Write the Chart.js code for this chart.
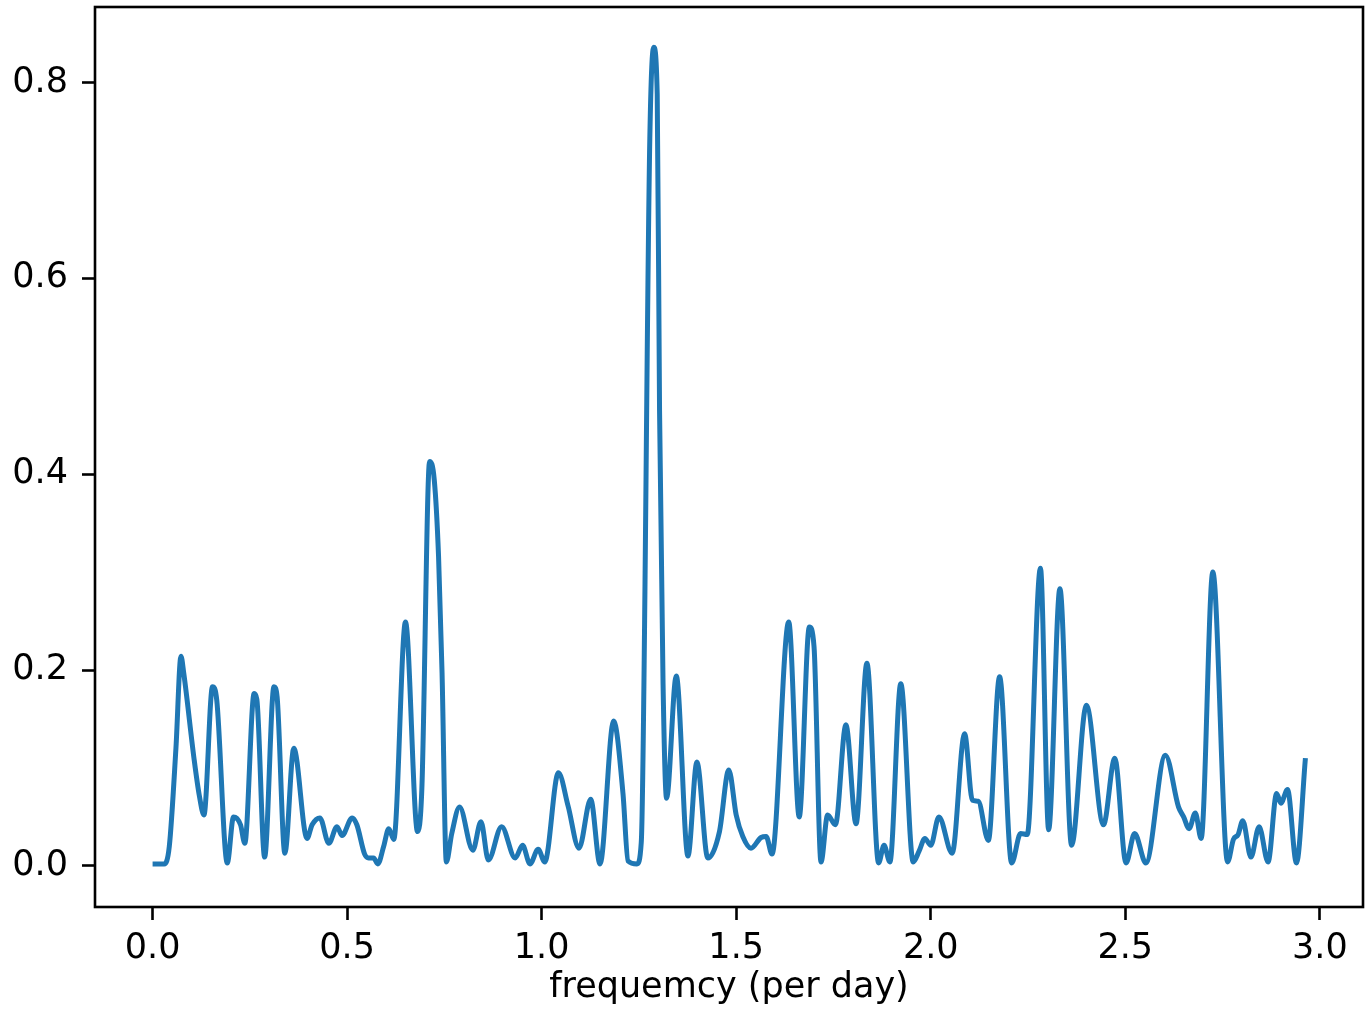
<!DOCTYPE html>
<html>
<head>
<meta charset="utf-8">
<script src="https://cdn.jsdelivr.net/npm/chart.js@4.4.1/dist/chart.umd.min.js"></script>
<style>
  html, body { margin: 0; padding: 0; background: #fff; }
  #wrap { width: 1365px; height: 1019px; }
</style>
</head>
<body>
<div id="wrap"><canvas id="periodogram"></canvas></div>
<script>
// frequency (per day) and power
let freq = [
    0.000, 0.030, 0.043, 0.060, 0.073, 0.080, 0.107, 0.120, 0.132, 0.154,
    0.165, 0.192, 0.208, 0.226, 0.237, 0.261, 0.268, 0.288, 0.312, 0.320,
    0.340, 0.363, 0.397, 0.410, 0.430, 0.453, 0.474, 0.487, 0.513, 0.525,
    0.545, 0.555, 0.568, 0.579, 0.594, 0.607, 0.620, 0.650, 0.681, 0.692,
    0.712, 0.724, 0.735, 0.744, 0.755, 0.769, 0.789, 0.823, 0.844, 0.863,
    0.897, 0.932, 0.951, 0.970, 0.991, 1.008, 1.043, 1.068, 1.096, 1.126,
    1.150, 1.185, 1.209, 1.222, 1.245, 1.256, 1.278, 1.288, 1.297, 1.303,
    1.312, 1.321, 1.346, 1.376, 1.399, 1.427, 1.457, 1.481, 1.500, 1.517,
    1.538, 1.564, 1.577, 1.592, 1.635, 1.662, 1.688, 1.700, 1.718, 1.735,
    1.755, 1.782, 1.808, 1.836, 1.866, 1.880, 1.895, 1.923, 1.955, 1.970,
    1.985, 2.000, 2.021, 2.055, 2.087, 2.107, 2.122, 2.148, 2.177, 2.208,
    2.231, 2.248, 2.282, 2.303, 2.332, 2.362, 2.400, 2.444, 2.473, 2.502,
    2.524, 2.553, 2.603, 2.637, 2.650, 2.664, 2.680, 2.695, 2.725, 2.763,
    2.778, 2.790, 2.802, 2.823, 2.844, 2.867, 2.889, 2.900, 2.917, 2.940,
    2.963
]
let power = [
    0.002, 0.002, 0.020, 0.120, 0.214, 0.197, 0.108, 0.072, 0.052, 0.183,
    0.169, 0.003, 0.050, 0.042, 0.023, 0.176, 0.170, 0.009, 0.183, 0.173,
    0.013, 0.120, 0.028, 0.042, 0.049, 0.023, 0.040, 0.031, 0.049, 0.042,
    0.012, 0.008, 0.008, 0.002, 0.020, 0.038, 0.027, 0.249, 0.035, 0.078,
    0.413, 0.394, 0.316, 0.197, 0.004, 0.033, 0.060, 0.016, 0.045, 0.006,
    0.040, 0.008, 0.021, 0.002, 0.017, 0.004, 0.095, 0.061, 0.018, 0.068,
    0.002, 0.148, 0.074, 0.005, 0.002, 0.024, 0.743, 0.836, 0.788, 0.465,
    0.186, 0.069, 0.194, 0.010, 0.106, 0.008, 0.035, 0.098, 0.052, 0.030,
    0.018, 0.029, 0.030, 0.012, 0.249, 0.050, 0.244, 0.224, 0.004, 0.052,
    0.042, 0.144, 0.043, 0.207, 0.003, 0.021, 0.004, 0.186, 0.004, 0.015,
    0.028, 0.021, 0.050, 0.013, 0.135, 0.067, 0.066, 0.026, 0.193, 0.003,
    0.033, 0.032, 0.304, 0.037, 0.283, 0.021, 0.164, 0.042, 0.110, 0.003,
    0.033, 0.003, 0.113, 0.060, 0.050, 0.038, 0.054, 0.028, 0.300, 0.004,
    0.027, 0.032, 0.046, 0.009, 0.040, 0.004, 0.074, 0.064, 0.078, 0.003,
    0.110
]

let xTicks = [0.0, 0.5, 1.0, 1.5, 2.0, 2.5, 3.0]
let yTicks = [0.0, 0.2, 0.4, 0.6, 0.8]

const FONT = { family: `"DejaVu Sans", sans-serif`, size: 35 }

// matplotlib-style box around the plot area
const frame = {
    id: `frame`,
    afterDraw(chart) {
        const { ctx, chartArea } = chart;
        ctx.save();
        ctx.strokeStyle = `#000`;
        ctx.lineWidth = 2.6;
        ctx.strokeRect(chartArea.left, chartArea.top,
            chartArea.right - chartArea.left, chartArea.bottom - chartArea.top);
        ctx.restore();
    }
}

function periodogramChart() {
    const ctx = document.getElementById(`periodogram`);

    new Chart(ctx, {
        type: `line`,
        data: {
            datasets: [{
                data: freq.map((f, i) => ({ x: f, y: power[i] })),
                borderColor: `#1f77b4`,
                borderWidth: 5,
                pointRadius: 0,
                cubicInterpolationMode: `monotone`,
                fill: false
            }]
        },
        options: {
            responsive: true,
            maintainAspectRatio: false,
            animation: false,
            events: [],
            layout: { padding: { top: 7, right: 2, left: 0, bottom: 0 } },
            plugins: { legend: { display: false }, tooltip: { enabled: false } },
            scales: {
                x: {
                    type: `linear`,
                    min: -0.148,
                    max: 3.111,
                    afterBuildTicks: (s) => { s.ticks = xTicks.map((v) => ({ value: v })) },
                    afterFit: (s) => {
                        s.height = 112;
                        s.paddingLeft = 0;
                        s.paddingRight = 0;
                    },
                    grid: { drawOnChartArea: false, tickLength: 13, tickWidth: 2.6, tickColor: `#000` },
                    border: { display: false },
                    ticks: {
                        font: FONT, color: `#000`, padding: 8, maxRotation: 0,
                        callback: (v) => v.toFixed(1)
                    },
                    title: {
                        display: true,
                        text: `frequemcy (per day)`,
                        font: FONT,
                        color: `#000`,
                        padding: { top: 0, bottom: 10 }
                    }
                },
                y: {
                    type: `linear`,
                    min: -0.042,
                    max: 0.877,
                    afterBuildTicks: (s) => { s.ticks = yTicks.map((v) => ({ value: v })) },
                    afterFit: (s) => {
                        s.width = 95;
                        s.paddingTop = 0;
                        s.paddingBottom = 0;
                    },
                    grid: { drawOnChartArea: false, tickLength: 13, tickWidth: 2.6, tickColor: `#000` },
                    border: { display: false },
                    ticks: {
                        font: FONT, color: `#000`, padding: 14,
                        callback: (v) => v.toFixed(1)
                    }
                }
            }
        },
        plugins: [frame]
    });
}

periodogramChart()
</script>
</body>
</html>
